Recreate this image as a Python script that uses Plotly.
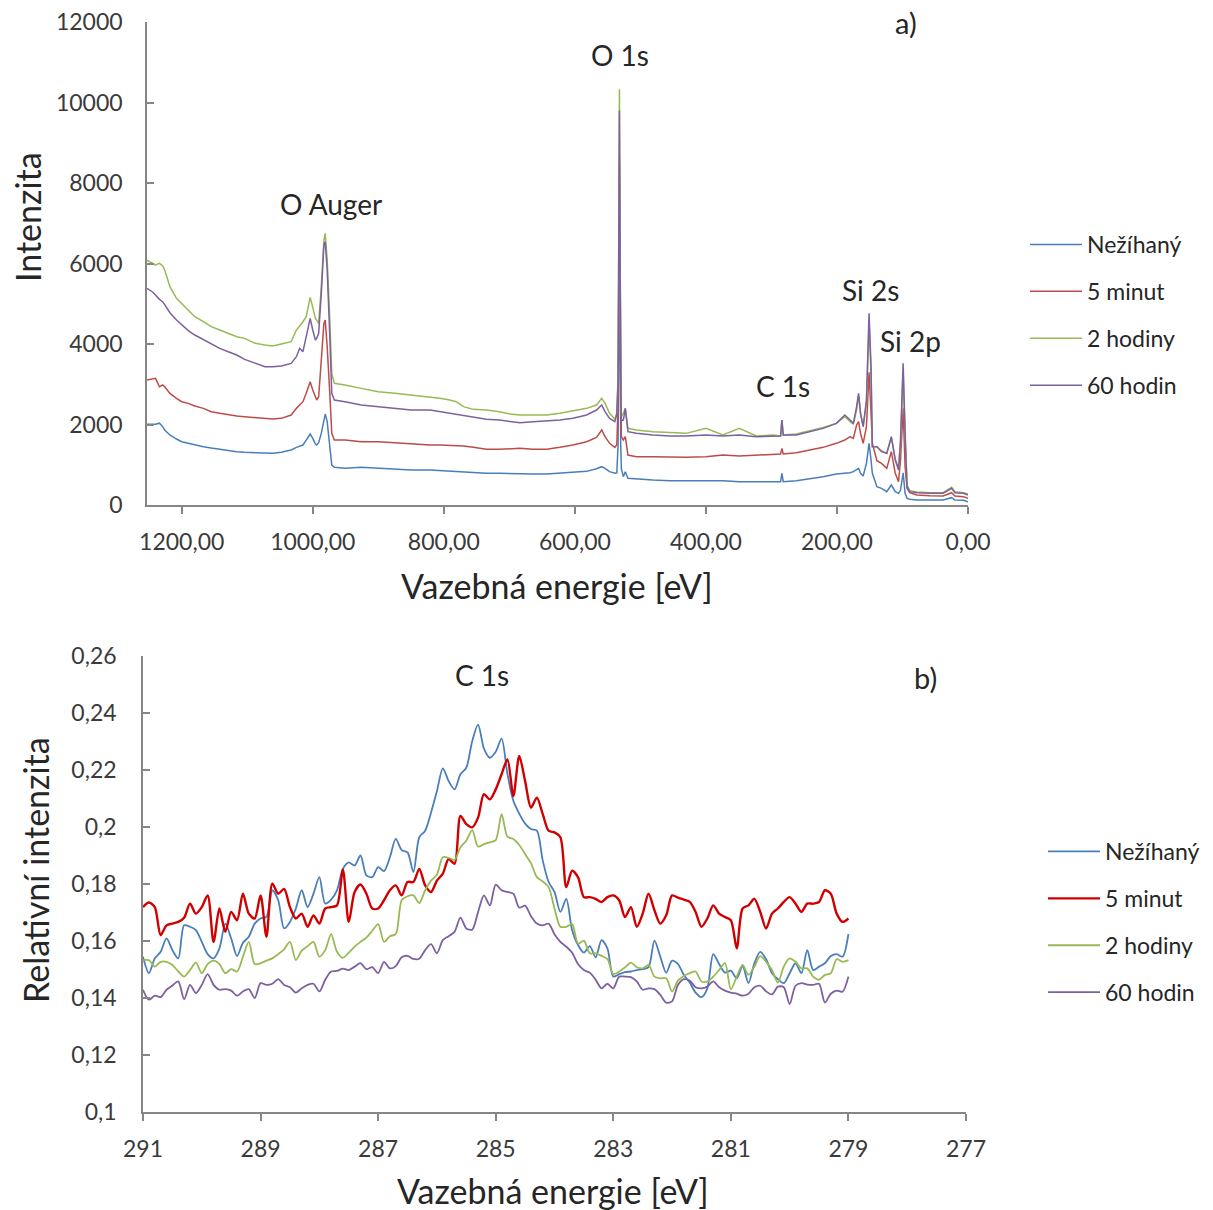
import plotly.graph_objects as go

# ---------------- Data: panel a) XPS survey ----------------
E_A = [1253, 1245, 1240, 1234, 1229, 1226, 1218, 1208, 1200, 1190, 1180, 1167, 1155, 1142, 1129, 1116,
       1104, 1088, 1073, 1061, 1048, 1033, 1025, 1020, 1017, 1015, 1010, 1004, 1000, 996, 994, 991,
       987, 983, 981, 978, 974, 971, 967, 951, 926, 900, 875, 850,
       821, 806, 791, 781, 770, 755, 735, 715, 699, 684, 664, 643, 623, 603, 582, 567, 559, 554,
       547, 539, 536, 534, 532, 530, 529, 526, 523, 519, 506, 481, 455, 430,
       400, 374, 349, 323, 297, 286, 284, 282, 262, 241, 221, 201, 188, 180, 175, 170, 167, 164,
       160, 155, 151, 148, 146, 139, 132, 124, 117, 111, 106, 103, 99, 96, 93, 89, 78, 58, 38,
       25, 20, 7, 0]

NEZIHANY_A = [2007, 2007, 2007, 2032, 1946, 1863, 1739, 1639, 1573, 1532, 1490, 1449, 1416, 1383, 1350, 1325,
              1308, 1300, 1283, 1283, 1308, 1366, 1432, 1466, 1482, 1490, 1614, 1764, 1656, 1515, 1490, 1548,
              1780, 2153, 2260, 2070, 1449, 993, 935, 911, 935, 911, 886, 869,
              869, 853, 845, 836, 828, 811, 787, 787, 778, 770, 770, 770, 787, 811, 836, 902, 952, 911,
              828, 787, 800, 1500, 6500, 1500, 900, 704, 828, 663, 646, 621, 604, 604,
              621, 604, 579, 579, 596, 579, 786, 579, 604, 654, 704, 770, 786, 803, 828, 886, 911, 786,
              720, 1035, 1532, 1118, 786, 455, 414, 331, 497, 331, 290, 372, 800, 290, 165, 141, 124, 124, 124,
              182, 124, 116, 83]

MINUT5_A = [3105, 3122, 3146, 2939, 2981, 2939, 2774, 2650, 2567, 2525, 2459, 2401, 2318, 2277, 2235, 2211,
            2194, 2178, 2153, 2136, 2153, 2235, 2401, 2484, 2525, 2567, 2774, 3063, 2856, 2650, 2608, 2691,
            3519, 4512, 4595, 3933, 2774, 1780, 1614, 1614, 1573, 1573, 1548, 1515,
            1490, 1490, 1482, 1474, 1466, 1432, 1383, 1383, 1399, 1408, 1383, 1383, 1432, 1490, 1573, 1681, 1863, 1697,
            1532, 1432, 1500, 2500, 8500, 2400, 1700, 1615, 1697, 1242, 1201, 1201, 1184, 1184,
            1200, 1242, 1217, 1242, 1258, 1267, 1407, 1267, 1300, 1366, 1432, 1532, 1614, 1697, 1656, 1987, 2070, 1780,
            1532, 1946, 3300, 2300, 1532, 1101, 1035, 910, 1325, 786, 579, 1118, 2400, 952, 414, 306, 248, 232, 224,
            306, 224, 207, 165]

HODINY2_A = [6080, 6003, 5962, 6003, 5937, 5837, 5423, 5134, 5009, 4844, 4678, 4554, 4430, 4347, 4264, 4181,
             4140, 4016, 3974, 3950, 3999, 4057, 4347, 4446, 4513, 4554, 4678, 5158, 4910, 4637, 4595, 4513,
             5423, 6583, 6748, 6086, 4595, 3270, 3022, 2981, 2898, 2815, 2774, 2733,
             2691, 2650, 2608, 2567, 2443, 2376, 2360, 2318, 2260, 2236, 2236, 2236, 2277, 2343, 2401, 2484, 2650, 2525,
             2277, 2128, 2300, 3200, 10330, 3000, 2200, 2277, 2401, 1904, 1863, 1822, 1797, 1780,
             1904, 1739, 1904, 1714, 1739, 1714, 2111, 1739, 1763, 1846, 1929, 2028, 2194, 2069, 2012, 2360, 2732, 2277,
             1946, 2525, 4500, 3270, 1449, 1449, 1349, 1283, 1681, 1134, 910, 1532, 3300, 1780, 497, 356, 323, 306, 306,
             439, 331, 306, 273]

HODIN60_A = [5382, 5299, 5216, 5109, 5051, 4968, 4778, 4595, 4471, 4331, 4223, 4115, 4016, 3892, 3809, 3726,
             3618, 3519, 3436, 3436, 3453, 3519, 3684, 3892, 3850, 3809, 4181, 4637, 4347, 4098, 4140, 4264,
             5258, 6458, 6541, 5837, 4181, 2774, 2608, 2567, 2484, 2443, 2401, 2360,
             2360, 2318, 2277, 2252, 2227, 2178, 2128, 2111, 2078, 2045, 2070, 2087, 2111, 2153, 2236, 2360, 2484, 2318,
             2153, 2070, 2250, 3100, 9800, 2900, 2100, 2111, 2401, 1822, 1780, 1739, 1714, 1714,
             1739, 1714, 1739, 1697, 1714, 1714, 2111, 1739, 1739, 1821, 1904, 2028, 2235, 2111, 2028, 2442, 2774, 2277,
             1946, 2608, 4761, 3436, 1449, 1449, 1325, 1283, 1697, 1118, 869, 1614, 3519, 1780, 455, 331, 306, 290, 290,
             414, 306, 290, 248]

# ---------------- Data: panel b) C 1s detail ----------------
E_B = [291.0, 290.9, 290.8, 290.7, 290.6, 290.5, 290.4, 290.3, 290.2, 290.1,
       290.0, 289.9, 289.8, 289.7, 289.6, 289.5, 289.4, 289.3, 289.2, 289.1,
       289.0, 288.9, 288.8, 288.7, 288.6, 288.5, 288.4, 288.3, 288.2, 288.1,
       288.0, 287.9, 287.8, 287.7, 287.6, 287.5, 287.4, 287.3, 287.2, 287.1,
       287.0, 286.9, 286.8, 286.7, 286.6, 286.5, 286.4, 286.3, 286.2, 286.1,
       286.0, 285.9, 285.8, 285.7, 285.6, 285.5, 285.4, 285.3, 285.2, 285.1,
       285.0, 284.9, 284.8, 284.7, 284.6, 284.5, 284.4, 284.3, 284.2, 284.1,
       284.0, 283.9, 283.8, 283.7, 283.6, 283.5, 283.4, 283.3, 283.2, 283.1,
       283.0, 282.9, 282.8, 282.7, 282.6, 282.5, 282.4, 282.3, 282.2, 282.1,
       282.0, 281.9, 281.8, 281.7, 281.6, 281.5, 281.4, 281.3, 281.2, 281.1,
       281.0, 280.9, 280.8, 280.7, 280.6, 280.5, 280.4, 280.3, 280.2, 280.1,
       280.0, 279.9, 279.8, 279.7, 279.6, 279.5, 279.4, 279.3, 279.2, 279.1,
       279.0]

NEZIHANY_B = [0.1545, 0.1487, 0.1539, 0.1562, 0.1609, 0.1568, 0.1539, 0.1655, 0.1650, 0.1638,
              0.1597, 0.1554, 0.1539, 0.1574, 0.1661, 0.1609, 0.1547, 0.1594, 0.1615, 0.1661,
              0.1679, 0.1685, 0.1778, 0.1743, 0.1644, 0.1667, 0.1714, 0.1778, 0.1719, 0.1766,
              0.1824, 0.1731, 0.1745, 0.1778, 0.1853, 0.1876, 0.1865, 0.1900, 0.1830, 0.1824,
              0.1859, 0.1845, 0.1894, 0.1958, 0.1919, 0.1911, 0.1842, 0.1964, 0.1987, 0.2051,
              0.2126, 0.2206, 0.2161, 0.2132, 0.2185, 0.2208, 0.2301, 0.2359, 0.2275, 0.2243,
              0.2264, 0.2310, 0.2185, 0.2092, 0.2047, 0.2012, 0.1993, 0.1987, 0.1882, 0.1807,
              0.1772, 0.1702, 0.1748, 0.1638, 0.1586, 0.1559, 0.1582, 0.1543, 0.1603, 0.1574,
              0.1475, 0.1484, 0.1491, 0.1493, 0.1498, 0.1501, 0.1508, 0.1601, 0.1545, 0.1489,
              0.1531, 0.1519, 0.1481, 0.1454, 0.1419, 0.1403, 0.1434, 0.1554, 0.1519, 0.1489,
              0.1496, 0.1469, 0.1512, 0.1452, 0.1522, 0.1562, 0.1536, 0.1487, 0.1466, 0.1452,
              0.1487, 0.1522, 0.1487, 0.1568, 0.1498, 0.1510, 0.1522, 0.1547, 0.1554, 0.1545,
              0.1624]

MINUT5_B = [0.1719, 0.1735, 0.1719, 0.1621, 0.1655, 0.1661, 0.1667, 0.1682, 0.1731, 0.1696,
            0.1719, 0.1760, 0.1597, 0.1714, 0.1632, 0.1702, 0.1673, 0.1766, 0.1696, 0.1679,
            0.1760, 0.1615, 0.1801, 0.1766, 0.1783, 0.1719, 0.1679, 0.1696, 0.1650, 0.1690,
            0.1661, 0.1714, 0.1719, 0.1725, 0.1850, 0.1667, 0.1772, 0.1798, 0.1766, 0.1714,
            0.1714, 0.1743, 0.1778, 0.1795, 0.1760, 0.1807, 0.1807, 0.1853, 0.1795, 0.1772,
            0.1812, 0.1836, 0.1888, 0.1871, 0.2039, 0.2010, 0.1999, 0.2033, 0.2115, 0.2097,
            0.2132, 0.2185, 0.2237, 0.2109, 0.2249, 0.2161, 0.2068, 0.2103, 0.2045, 0.1987,
            0.1981, 0.1964, 0.1789, 0.1847, 0.1824, 0.1754, 0.1754, 0.1748, 0.1737, 0.1754,
            0.1760, 0.1743, 0.1684, 0.1719, 0.1650, 0.1696, 0.1766, 0.1708, 0.1661, 0.1690,
            0.1760, 0.1752, 0.1745, 0.1737, 0.1702, 0.1650, 0.1679, 0.1725, 0.1696, 0.1684,
            0.1673, 0.1574, 0.1714, 0.1725, 0.1748, 0.1702, 0.1644, 0.1696, 0.1714, 0.1737,
            0.1754, 0.1731, 0.1702, 0.1731, 0.1731, 0.1737, 0.1778, 0.1766, 0.1696, 0.1667,
            0.1679]

HODINY2_B = [0.1533, 0.1533, 0.1510, 0.1527, 0.1527, 0.1516, 0.1493, 0.1475, 0.1498, 0.1524,
             0.1487, 0.1519, 0.1531, 0.1519, 0.1487, 0.1501, 0.1493, 0.1545, 0.1597, 0.1519,
             0.1522, 0.1531, 0.1539, 0.1554, 0.1571, 0.1597, 0.1533, 0.1566, 0.1582, 0.1597,
             0.1545, 0.1568, 0.1624, 0.1562, 0.1541, 0.1559, 0.1580, 0.1597, 0.1612, 0.1636,
             0.1659, 0.1597, 0.1617, 0.1624, 0.1743, 0.1757, 0.1760, 0.1733, 0.1778, 0.1812,
             0.1833, 0.1894, 0.1892, 0.1885, 0.1929, 0.1952, 0.1989, 0.1931, 0.1940, 0.1946,
             0.1954, 0.2045, 0.1966, 0.1958, 0.1937, 0.1905, 0.1873, 0.1824, 0.1809, 0.1789,
             0.1714, 0.1650, 0.1650, 0.1659, 0.1591, 0.1601, 0.1557, 0.1557, 0.1548, 0.1537,
             0.1484, 0.1493, 0.1508, 0.1524, 0.1508, 0.1504, 0.1516, 0.1475, 0.1469, 0.1469,
             0.1423, 0.1461, 0.1477, 0.1487, 0.1493, 0.1458, 0.1458, 0.1475, 0.1498, 0.1522,
             0.1431, 0.1475, 0.1516, 0.1481, 0.1510, 0.1547, 0.1527, 0.1498, 0.1454, 0.1510,
             0.1539, 0.1527, 0.1504, 0.1504, 0.1475, 0.1464, 0.1481, 0.1487, 0.1536, 0.1527,
             0.1533]

HODIN60_B = [0.1429, 0.1394, 0.1408, 0.1403, 0.1429, 0.1444, 0.1458, 0.1396, 0.1446, 0.1417,
             0.1446, 0.1484, 0.1446, 0.1429, 0.1431, 0.1426, 0.1408, 0.1423, 0.1431, 0.1400,
             0.1452, 0.1446, 0.1450, 0.1466, 0.1446, 0.1438, 0.1419, 0.1434, 0.1446, 0.1450,
             0.1423, 0.1464, 0.1493, 0.1495, 0.1503, 0.1498, 0.1510, 0.1522, 0.1501, 0.1508,
             0.1487, 0.1527, 0.1504, 0.1512, 0.1543, 0.1548, 0.1537, 0.1538, 0.1568, 0.1589,
             0.1557, 0.1603, 0.1617, 0.1632, 0.1682, 0.1644, 0.1640, 0.1702, 0.1760, 0.1725,
             0.1798, 0.1778, 0.1772, 0.1766, 0.1717, 0.1724, 0.1687, 0.1661, 0.1655, 0.1661,
             0.1624, 0.1597, 0.1580, 0.1559, 0.1519, 0.1498, 0.1489, 0.1464, 0.1434, 0.1450,
             0.1434, 0.1475, 0.1475, 0.1473, 0.1458, 0.1429, 0.1434, 0.1431, 0.1411, 0.1384,
             0.1388, 0.1446, 0.1466, 0.1461, 0.1438, 0.1434, 0.1440, 0.1458, 0.1438, 0.1426,
             0.1419, 0.1415, 0.1408, 0.1415, 0.1438, 0.1443, 0.1423, 0.1413, 0.1440, 0.1438,
             0.1379, 0.1443, 0.1452, 0.1447, 0.1446, 0.1450, 0.1384, 0.1415, 0.1426, 0.1422,
             0.1475]

SERIES_NAMES = ["Nežíhaný", "5 minut", "2 hodiny", "60 hodin"]

TICKS_A_X = [1200, 1000, 800, 600, 400, 200, 0]
TICKTEXT_A_X = ["1200,00", "1000,00", "800,00", "600,00", "400,00", "200,00", "0,00"]
TICKS_A_Y = [0, 2000, 4000, 6000, 8000, 10000, 12000]
TICKTEXT_A_Y = ["0", "2000", "4000", "6000", "8000", "10000", "12000"]
TICKS_B_X = [291, 289, 287, 285, 283, 281, 279, 277]
TICKTEXT_B_X = ["291", "289", "287", "285", "283", "281", "279", "277"]
TICKS_B_Y = [0.10, 0.12, 0.14, 0.16, 0.18, 0.20, 0.22, 0.24, 0.26]
TICKTEXT_B_Y = ["0,1", "0,12", "0,14", "0,16", "0,18", "0,2", "0,22", "0,24", "0,26"]

# ---------------- Styling ----------------
W, H = 1213, 1210
FONT = "Lato"
TXT = "#262626"
AX = "#868686"
COL_A = ["#4A7EBB", "#BE4B48", "#98B954", "#7D60A0"]
COL_B = ["#4A7EBB", "#D00000", "#98B954", "#7D60A0"]
WID_B = [1.8, 2.4, 1.8, 1.8]


def px(x):
    return x / W


def py(y):
    return 1 - y / H


fig = go.Figure()

series_a = [NEZIHANY_A, MINUT5_A, HODINY2_A, HODIN60_A]
for name, ys, c in zip(SERIES_NAMES, series_a, COL_A):
    fig.add_trace(go.Scatter(x=E_A, y=ys, name=name, mode="lines",
                             line=dict(color=c, width=1.5),
                             xaxis="x", yaxis="y", legend="legend",
                             legendgroup="a" + name))

series_b = [NEZIHANY_B, MINUT5_B, HODINY2_B, HODIN60_B]
for name, ys, c, w in zip(SERIES_NAMES, series_b, COL_B, WID_B):
    fig.add_trace(go.Scatter(x=E_B, y=ys, name=name, mode="lines",
                             line=dict(color=c, width=w, shape="spline", smoothing=0.8),
                             xaxis="x2", yaxis="y2", legend="legend2",
                             legendgroup="b" + name))

axis_common = dict(showline=True, linecolor=AX, linewidth=1.6, showgrid=False, zeroline=False,
                   tickcolor=AX, tickwidth=1.6, ticklen=7, tickmode="array",
                   tickfont=dict(family=FONT, size=23, color="#3a3a3a"))

fig.update_layout(
    width=W, height=H,
    margin=dict(l=0, r=0, t=0, b=0, autoexpand=False),
    paper_bgcolor="white", plot_bgcolor="white",
    font=dict(family=FONT, color=TXT),
    xaxis=dict(domain=[px(147), px(968)], range=[1253, 0], anchor="y",
               tickvals=TICKS_A_X, ticktext=TICKTEXT_A_X, ticks="outside",
               ticklabelstandoff=9, **axis_common),
    yaxis=dict(domain=[py(505), py(22)], range=[0, 12000], anchor="x",
               tickvals=TICKS_A_Y, ticktext=TICKTEXT_A_Y, ticks="inside",
               ticklabelstandoff=18, **axis_common),
    xaxis2=dict(domain=[px(143), px(966)], range=[291, 277], anchor="y2",
                tickvals=TICKS_B_X, ticktext=TICKTEXT_B_X, ticks="outside",
                ticklabelstandoff=9, **axis_common),
    yaxis2=dict(domain=[py(1112), py(656)], range=[0.1, 0.26], anchor="x2",
                tickvals=TICKS_B_Y, ticktext=TICKTEXT_B_Y, ticks="inside",
                ticklabelstandoff=20, **axis_common),
    legend=dict(x=px(1025), y=py(223), xanchor="left", yanchor="top",
                font=dict(family=FONT, size=23, color=TXT), tracegroupgap=14,
                bgcolor="rgba(0,0,0,0)", itemwidth=52),
    legend2=dict(x=px(1043), y=py(830), xanchor="left", yanchor="top",
                 font=dict(family=FONT, size=23, color=TXT), tracegroupgap=14,
                 bgcolor="rgba(0,0,0,0)", itemwidth=52),
    showlegend=True,
)

annots = [
    ("a)", 906, 22, 29, 0), ("O 1s", 620, 55, 28, 0), ("O Auger", 331, 204, 28, 0),
    ("Si 2s", 870, 290, 28, 0), ("Si 2p", 910, 341, 28, 0), ("C 1s", 783, 386, 28, 0),
    ("C 1s", 482, 675, 28, 0), ("b)", 925, 677, 29, 0),
    ("Intenzita", 27, 217, 34, -90), ("Vazebná energie [eV]", 557, 585, 34, 0),
    ("Relativní intenzita", 35, 870, 34, -90), ("Vazebná energie [eV]", 553, 1190, 34, 0),
]
for text, x, y, size, ang in annots:
    fig.add_annotation(text=text, x=px(x), y=py(y), xref="paper", yref="paper",
                       showarrow=False, xanchor="center", yanchor="middle", textangle=ang,
                       font=dict(family=FONT, size=size, color=TXT))

fig.write_html("out.html", config={"displayModeBar": False},
               post_script="document.body.style.margin='0px';document.body.style.padding='0px';")
